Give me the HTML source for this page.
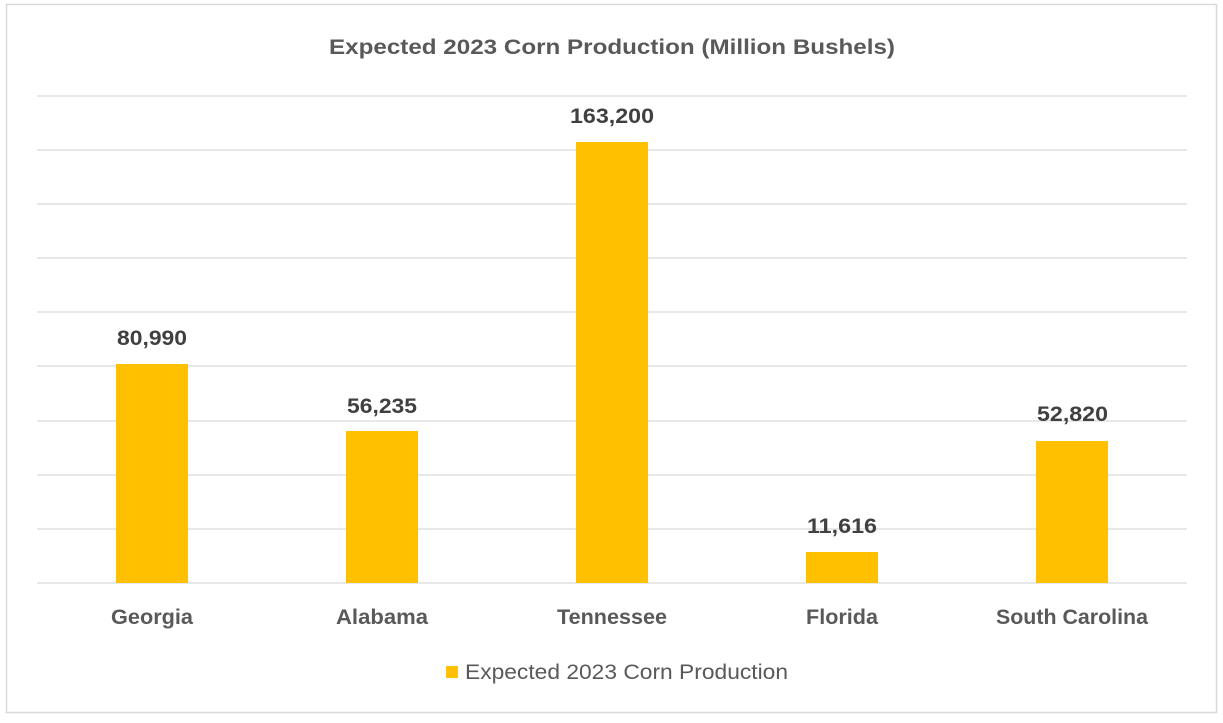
<!DOCTYPE html>
<html><head><style>
body{margin:0;background:#fff;}
svg text{font-family:"Liberation Sans",sans-serif;}
</style></head><body>
<svg width="1223" height="718" xmlns="http://www.w3.org/2000/svg">
<rect x="0" y="0" width="1223" height="718" fill="#fff"/>
<rect x="6.5" y="4.5" width="1210" height="708" fill="none" stroke="#d9d9d9" stroke-width="1.5"/>
<g stroke="#d9d9d9" stroke-width="1.3">
<line x1="37" x2="1187" y1="96" y2="96"/>
<line x1="37" x2="1187" y1="150" y2="150"/>
<line x1="37" x2="1187" y1="204" y2="204"/>
<line x1="37" x2="1187" y1="258" y2="258"/>
<line x1="37" x2="1187" y1="312" y2="312"/>
<line x1="37" x2="1187" y1="366" y2="366"/>
<line x1="37" x2="1187" y1="421" y2="421"/>
<line x1="37" x2="1187" y1="475" y2="475"/>
<line x1="37" x2="1187" y1="529" y2="529"/>
<line x1="37" x2="1187" y1="583" y2="583"/>
</g>
<g fill="#ffc000">
<rect x="116" y="364" width="72" height="219"/>
<rect x="346" y="431" width="72" height="152"/>
<rect x="576" y="142" width="72" height="441"/>
<rect x="806" y="552" width="72" height="31"/>
<rect x="1036" y="441" width="72" height="142"/>
</g>
<text x="329" y="54" textLength="566" lengthAdjust="spacingAndGlyphs" font-size="21" font-weight="bold" fill="#595959">Expected 2023 Corn Production (Million Bushels)</text>
<g font-size="21" font-weight="bold" fill="#404040">
<text x="117" y="345" textLength="70" lengthAdjust="spacingAndGlyphs">80,990</text>
<text x="347" y="413" textLength="70" lengthAdjust="spacingAndGlyphs">56,235</text>
<text x="570" y="123" textLength="84" lengthAdjust="spacingAndGlyphs">163,200</text>
<text x="807" y="533" textLength="70" lengthAdjust="spacingAndGlyphs">11,616</text>
<text x="1037" y="421" textLength="71" lengthAdjust="spacingAndGlyphs">52,820</text>
</g>
<g font-size="21" font-weight="bold" fill="#595959">
<text x="111" y="624" textLength="82" lengthAdjust="spacingAndGlyphs">Georgia</text>
<text x="336" y="624" textLength="92" lengthAdjust="spacingAndGlyphs">Alabama</text>
<text x="557" y="624" textLength="110" lengthAdjust="spacingAndGlyphs">Tennessee</text>
<text x="806" y="624" textLength="72" lengthAdjust="spacingAndGlyphs">Florida</text>
<text x="996" y="624" textLength="152" lengthAdjust="spacingAndGlyphs">South Carolina</text>
</g>
<rect x="446" y="666" width="12" height="12" fill="#ffc000"/>
<text x="465" y="679" textLength="323" lengthAdjust="spacingAndGlyphs" font-size="21" fill="#595959">Expected 2023 Corn Production</text>
</svg>
</body></html>
